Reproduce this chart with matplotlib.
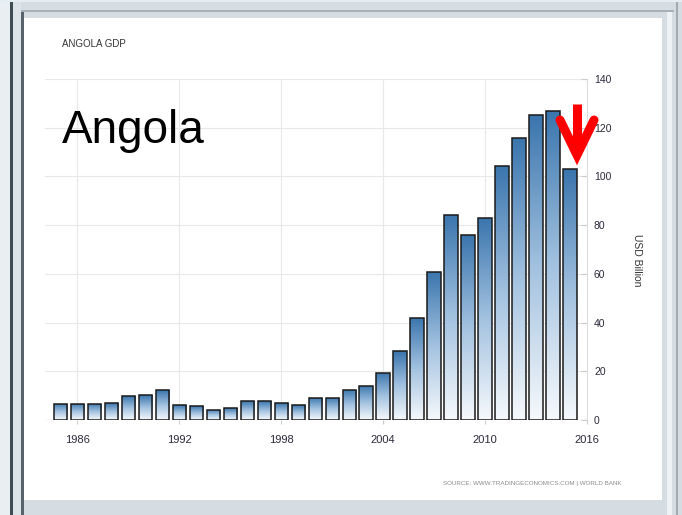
import numpy as np
import matplotlib.pyplot as plt
from matplotlib.patches import Rectangle
from matplotlib.lines import Line2D
from matplotlib.colors import LinearSegmentedColormap

# Angola GDP, USD billion
years = list(range(1985, 2016))
gdp = [6.6, 6.6, 6.6, 6.8, 9.7, 10.1, 12.3, 6.0, 5.6, 4.3, 4.8, 7.8, 7.8,
       6.8, 6.1, 9.2, 9.2, 12.4, 14.1, 19.5, 28.2, 42.0, 60.8, 84.2, 75.9,
       83.0, 104.3, 115.8, 125.2, 127.0, 103.0]
x_ticks = [1986, 1992, 1998, 2004, 2010, 2016]
y_ticks = [0, 20, 40, 60, 80, 100, 120, 140]

W, H = 682, 515
narrow = ['Liberation Sans Narrow', 'Liberation Sans', 'DejaVu Sans']


def fx(px):
    return px / W


def fy(py):
    return 1 - py / H


fig = plt.figure(figsize=(W / 100, H / 100), dpi=100)
fig.patch.set_facecolor('#d5dde3')

# window-like frame around the chart
def frect(x0, y0, x1, y1, color):
    fig.patches.append(Rectangle((fx(x0), fy(y1)), fx(x1) - fx(x0), fy(y0) - fy(y1),
                                 transform=fig.transFigure, facecolor=color,
                                 edgecolor='none', zorder=-10))

frect(0, 0, 10, H, '#e8eef2')
frect(10, 0, 13, H, '#3f4d52')
frect(13, 0, 21, H, '#dce4e9')
frect(21, 10, 24, H, '#56636a')
frect(21, 10, 674, 12, '#a6b1b8')
frect(24, 18, 662, 500, 'white')
frect(667, 12, 672, H, '#eef2f5')
frect(676, 0, 678, H, '#a0abb2')
frect(0, 0, W, 2, '#e4edf2')

ax = fig.add_axes([fx(45), fy(420), fx(587) - fx(45), fy(79) - fy(420)])
ax.set_facecolor('white')

bars = ax.bar(years, gdp, width=0.78, facecolor='none', edgecolor='#1a1a1a',
              linewidth=1.1, zorder=3)

cmap = LinearSegmentedColormap.from_list('grad', ['#f6f9fc', '#a3c2e0', '#3a75ad'])
grad = np.linspace(0, 1, 256).reshape(-1, 1)
for b in bars:
    x0 = b.get_x()
    im = ax.imshow(grad, cmap=cmap, origin='lower', aspect='auto',
                   extent=[x0, x0 + b.get_width(), 0, b.get_height()], zorder=2)
    im.set_clip_path(b)

ax.set_xlim(1984.1, 2016)
ax.set_ylim(0, 140)
ax.set_xticks(x_ticks)
ax.set_yticks(y_ticks)

ax.yaxis.tick_right()
ax.grid(True, color='#e8e8e8', linewidth=0.8, zorder=0)
ax.axhline(0, color='#c8c8c8', linewidth=0.8, zorder=1)
for s in ['top', 'left', 'bottom']:
    ax.spines[s].set_visible(False)
ax.spines['right'].set_color('#dcdcdc')
ax.spines['right'].set_linewidth(0.8)

ax.tick_params(axis='x', length=3, color='#cccccc', pad=8, labelsize=8,
               labelcolor='#2a2a3a')
ax.tick_params(axis='y', direction='in', length=4, color='#cccccc', pad=5,
               labelsize=7.5, labelcolor='#2a2a3a')
for lab in ax.get_xticklabels() + ax.get_yticklabels():
    lab.set_family(narrow)

# texts
fig.text(fx(62), fy(44), 'ANGOLA GDP', family=narrow, fontsize=7, color='#333333',
         va='center', ha='left')
fig.text(fx(62), fy(143), 'Angola', family=['Liberation Sans', 'DejaVu Sans'],
         fontsize=33, color='black', va='baseline', ha='left')
fig.text(fx(637), fy(260), 'USD Billion', family=narrow, fontsize=7.5,
         color='#333333', rotation=270, va='center', ha='center')
fig.text(fx(532), fy(483), 'SOURCE: WWW.TRADINGECONOMICS.COM | WORLD BANK',
         family=narrow, fontsize=4.5, color='#8a8a8a', va='center', ha='center')

# red down arrow
fig.lines.append(Line2D([fx(577), fx(577)], [fy(104), fy(150)], transform=fig.transFigure,
                        color='#ff0000', linewidth=6.5, solid_capstyle='butt', zorder=5))
fig.lines.append(Line2D([fx(560), fx(577), fx(594)], [fy(120), fy(155), fy(120)],
                        transform=fig.transFigure, color='#ff0000', linewidth=6.5,
                        solid_joinstyle='miter', solid_capstyle='round', zorder=5))

fig.savefig('out.png', dpi=100, facecolor=fig.get_facecolor())
